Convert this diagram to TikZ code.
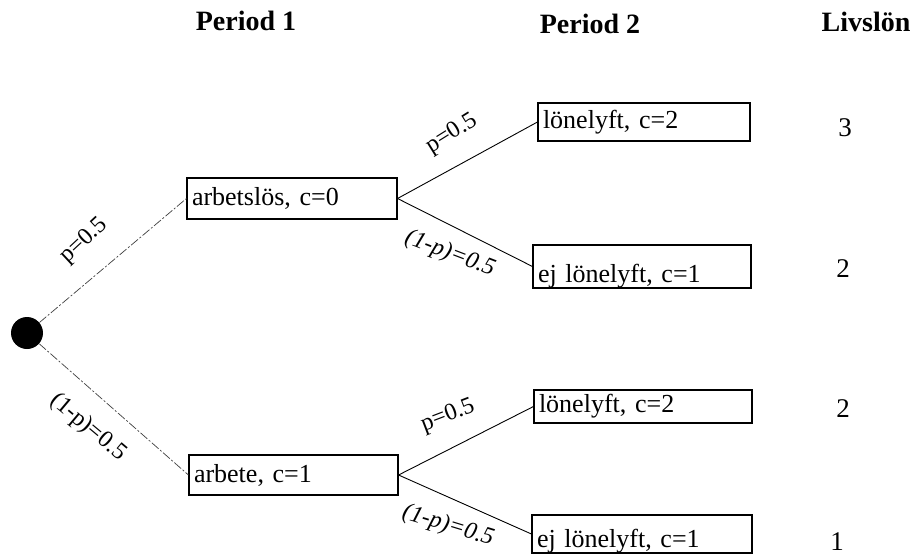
\documentclass[tikz,border=0pt]{standalone}
\usepackage{fontspec}
\setmainfont{Liberation Serif}
\begin{document}
\begin{tikzpicture}[x=1pt,y=-1pt,
  box/.style={draw=black,line width=1.1pt,rectangle,inner xsep=5pt,inner ysep=0pt,align=left,font=\fontsize{26}{28}\selectfont},
  head/.style={font=\bfseries\fontsize{28}{30}\selectfont,inner sep=0pt},
  val/.style={font=\fontsize{27}{28}\selectfont,inner sep=0pt},
  prob/.style={font=\fontsize{24}{26}\selectfont,inner sep=0pt},
  probi/.style={font=\itshape\fontsize{24}{26}\selectfont,inner sep=0pt},
  edge/.style={line width=0.9pt,black},
  fedge/.style={line width=0.7pt,black!75,dash pattern=on 9pt off 2pt on 2pt off 2pt}]
\useasboundingbox (0,0) rectangle (918,555);
\fill[white] (0,0) rectangle (918,555);

% headers
\node[head] (h1) at (246,21) {Period 1};
\node[head] (h2) at (590,24) {Period 2};
\node[head] (h3) at (866,22) {Livslön};

% root
\node[circle,fill=black,minimum size=32pt,inner sep=0pt] (o) at (27,333) {};

% period 1 boxes
\node[box,text width=200pt,minimum height=41pt] (A) at (292,198.5) {arbetslös, c=0};
\node[box,text width=199pt,minimum height=40pt] (B) at (293.5,475) {arbete, c=1};

% period 2 boxes
\node[box,text width=202pt,minimum height=38pt] (C) at (644,122) {lönelyft, c=2};
\node[box,text width=208pt,text height=37pt,text depth=6pt] (D) at (642,266.5) {ej lönelyft, c=1};
\node[box,text width=208pt,minimum height=33pt] (E) at (643,406.5) {lönelyft, c=2};
\node[box,text width=210pt,text height=32pt,text depth=6pt] (F) at (642,534) {ej lönelyft, c=1};

% lifetime values
\node[val] (v1) at (845,128) {3};
\node[val] (v2) at (843,269) {2};
\node[val] (v3) at (843,409) {2};
\node[val] (v4) at (837,542) {1};

% connectors
\draw[fedge] (o) -- (A.west);
\draw[fedge] (o) -- (B.west);
\draw[edge] (A.east) -- (C.west);
\draw[edge] (A.east) -- (D.west);
\draw[edge] (B.east) -- (E.west);
\draw[edge] (B.east) -- (F.west);

% probability labels
\node[prob,rotate=43] (l1) at (84,241) {p=0.5};
\node[prob,rotate=-40] (l2) at (88,427) {(1-p)=0.5};
\node[prob,rotate=32] (l3) at (452,134) {p=0.5};
\node[probi,rotate=-21] (l4) at (450,254) {(1-p)=0.5};
\node[prob,rotate=21] (l5) at (448,416) {p=0.5};
\node[probi,rotate=-17] (l6) at (448,526) {(1-p)=0.5};
\end{tikzpicture}
\end{document}
